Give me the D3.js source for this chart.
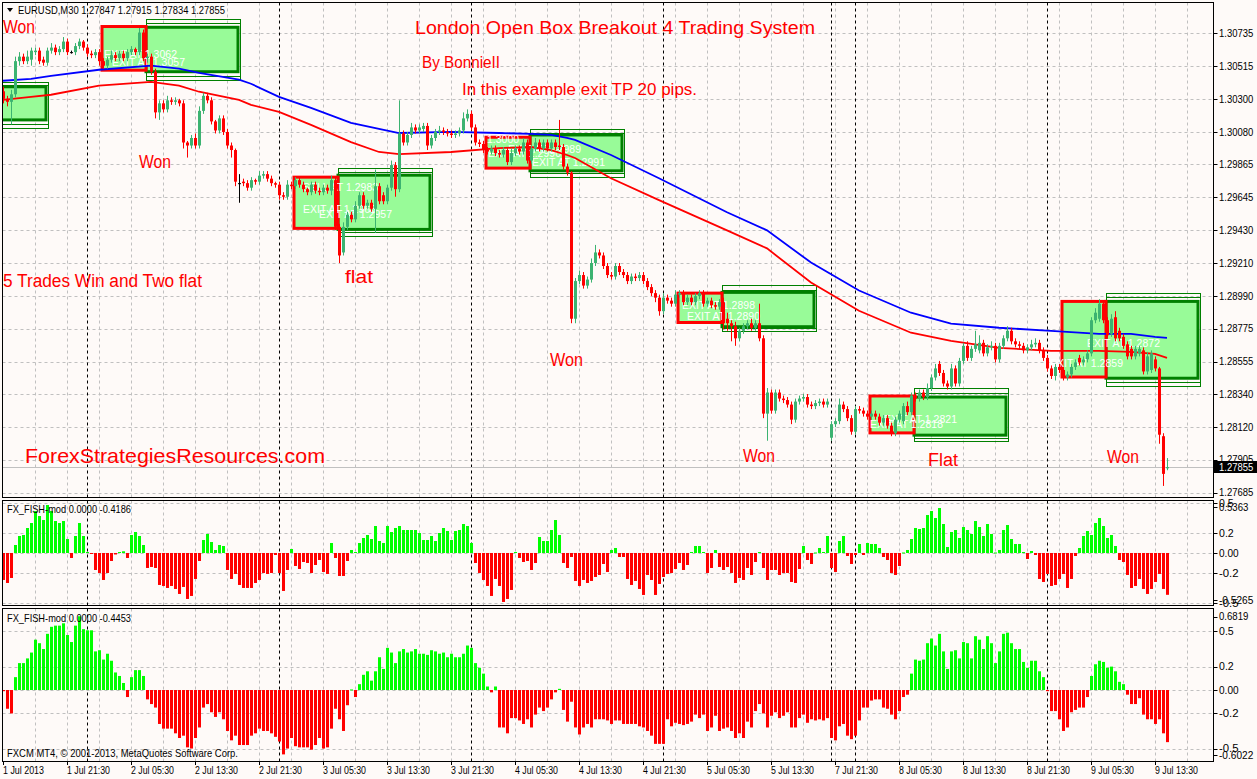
<!DOCTYPE html>
<html><head><meta charset="utf-8">
<script src="https://cdn.jsdelivr.net/npm/d3@7/dist/d3.min.js"></script>
<style>
html,body{margin:0;padding:0;background:#fefaf8;overflow:hidden;}
svg{display:block;}
text{font-family:"Liberation Sans",Arial,"DejaVu Sans",sans-serif;}
</style></head><body>
<svg id="chart" width="1257" height="779"></svg>
<script>
// ===== DATA (prices in pips above 1.2700) =====
const priceBase = 1.27, pipSize = 10000;
const symbolHeader = "EURUSD,M30  1.27847 1.27915 1.27834 1.27855";
const opens = [
335,330,328,333,355,358,355,356,361,362, 356,354,362,364,361,363,368,361,361,365,
368,364,360,359,361,355,352,356,359,357, 360,357,361,363,361,374,357,358,348,321,
327,323,329,328,329,327,301,299,304,299, 322,332,329,315,309,317,308,299,296,274,
275,274,271,276,275,279,280,277,274,273, 266,265,273,272,276,273,270,268,273,269,
268,271,269,276,245,228,245,253,250,259, 266,259,261,257,272,266,262,271,286,270,
307,301,306,311,309,310,312,299,304,308, 309,308,307,306,307,309,317,320,311,301,
300,296,295,297,294,293,296,288,294,297, 295,301,289,297,301,297,301,297,301,299,
298,285,281,184,209,213,206,210,221,228, 226,219,213,212,219,215,213,209,212,211,
213,209,205,201,198,189,198,196,194,200, 201,195,198,195,199,201,194,196,193,192,
195,184,181,179,171,176,179,181,178,181, 171,121,135,123,135,131,130,127,117,129,
131,132,127,126,128,129,127,105,114,116, 127,124,118,109,124,123,121,119,121,119,
115,118,113,108,117,116,126,122,133,131, 135,132,138,145,154,148,141,139,151,141,
156,166,158,164,163,168,161,165,166,157, 166,171,176,169,167,166,163,165,167,168,
163,158,151,146,152,150,145,147,152,158, 155,157,161,183,184,194,183,174,185,176,
172,167,164,159,161,163,149,150,157,151, 106,84.7];
const closes = [
330,328,333,355,358,355,358,362,362,355, 354,362,364,361,363,368,361,361,365,368,
364,360,359,361,355,352,356,359,357,360, 357,361,363,361,374,357,358,348,321,327,
323,329,328,329,327,301,299,304,299,322, 332,329,315,309,317,308,299,296,275,274,
274,271,276,275,279,280,277,274,273,266, 265,273,272,276,273,270,268,273,269,268,
271,269,276,245,226,245,253,250,259,266, 259,261,257,272,262,262,271,286,270,307,
301,306,311,309,311,312,299,304,308,309, 308,307,306,307,309,317,320,311,301,300,
296,295,297,294,293,296,288,294,297,295, 301,289,297,301,297,301,297,301,298,298,
285,281,184,209,213,206,210,221,228,226, 219,213,212,219,215,213,209,212,211,213,
209,205,201,198,189,198,196,194,200,201, 195,198,195,199,201,194,196,193,192,195,
181,181,179,171,176,179,181,178,181,171, 121,135,123,135,131,130,127,117,129,131,
132,127,126,128,129,127,129,114,116,127, 124,118,109,124,123,121,119,121,119,115,
118,113,108,117,121,126,122,133,131,135, 132,138,145,151,148,141,139,151,141,156,
166,158,164,167,168,161,165,166,157,166, 171,176,169,167,166,163,165,167,168,163,
158,151,146,152,150,145,147,152,155,155, 157,161,183,188,194,183,173,184,171,171,
166,159,159,164,164,149,159,161,151,107, 81,85.5];
const wickUp = [
3,2,3,3,3,2,4,2,2,2, 2,2,3,2,2,3,2,1,2,2, 1,2,2,2,2,2,2,3,2,2, 2,2,2,1,3,2,2,2,2,2,
2,3,2,2,1,2,1,2,3,3, 2,2,2,1,2,2,2,2,1,6, 2,2,2,1,3,2,2,2,1,2, 2,3,2,2,2,2,1,2,2,2,
2,2,3,2,2,3,2,2,3,2, 2,2,2,11,2,2,2,3,2,22, 2,2,3,2,2,2,2,2,2,3, 2,2,2,2,2,4,3,2,2,2,
2,2,2,2,2,2,2,3,2,2, 3,2,2,3,2,2,2,2,2,17, 2,2,1,2,3,2,2,3,5,2, 2,2,2,2,2,2,2,2,2,2,
2,2,2,2,2,3,2,2,3,2, 2,2,2,2,2,2,2,2,2,2, 3,4,2,3,2,2,2,3,2,13, 2,3,2,2,2,2,2,2,2,2,
2,2,2,2,2,2,2,2,2,4, 2,2,2,2,2,2,2,2,2,2, 2,2,2,2,2,2,3,2,2,2, 2,3,2,3,2,2,2,3,2,2,
2,3,2,9,5,2,2,3,2,2, 2,3,2,2,2,2,2,3,3,2, 2,2,2,2,2,2,2,2,2,2, 2,2,2,3,3,2,2,3,4,2,
2,2,2,2,2,2,3,2,2,1, 2,6];
const wickDn = [
3,3,15,2,3,2,2,4,2,2, 2,2,2,2,2,2,2,1,2,2, 2,2,2,2,3,2,2,2,2,2, 2,2,2,2,2,2,3,2,4,5,
2,2,2,2,2,4,8,2,2,2, 2,2,2,2,2,2,2,5,3,13, 2,2,2,2,2,2,2,2,2,3, 2,2,2,2,2,2,2,2,2,2,
2,2,3,2,5,2,2,2,2,2, 2,2,2,16,2,2,2,2,5,2, 2,2,2,2,2,2,3,2,2,2, 2,2,2,2,2,2,2,2,2,2,
2,2,2,2,2,2,2,2,2,2, 2,2,2,2,2,2,2,2,2,2, 2,2,3,3,2,2,2,2,2,2, 2,2,2,2,2,2,2,2,2,2,
2,2,2,3,3,2,2,2,2,2, 2,2,2,2,2,2,2,2,2,2, 4,5,10,5,2,2,2,2,2,2, 3,18,2,2,2,2,2,3,2,2,
2,2,2,2,2,2,2,2,2,2, 2,2,2,2,2,2,2,2,2,2, 2,2,2,2,2,2,2,2,2,2, 2,2,2,2,2,2,2,2,2,2,
2,2,2,2,2,2,2,2,2,2, 2,2,2,2,2,2,2,2,2,2, 2,2,2,3,2,2,2,2,2,2, 2,2,2,2,2,2,2,2,2,2,
2,2,2,2,2,2,2,2,2,6, 8,1.3];
// FX_FISH-mod histograms
const fish1 = [
-0.27,-0.30,-0.25,0.08,0.17,0.18,0.25,0.30,0.42,0.37, 0.33,0.48,0.42,0.32,0.30,0.32,0.14,-0.05,0.17,0.30,
0.17,0.01,-0.01,-0.17,-0.20,-0.27,-0.20,-0.08,-0.015,0.01, 0.017,-0.05,0.18,0.21,0.17,0.08,-0.15,-0.14,-0.15,-0.32,
-0.33,-0.35,-0.33,-0.36,-0.41,-0.34,-0.46,-0.43,-0.26,-0.08, 0.13,0.19,0.11,0.03,0.08,0.07,-0.17,-0.26,-0.21,-0.32,
-0.35,-0.35,-0.35,-0.30,-0.27,-0.20,-0.21,-0.20,-0.02,-0.20, -0.38,-0.17,0.04,-0.13,-0.16,-0.09,-0.10,-0.20,-0.12,-0.07,
-0.19,-0.21,0.10,-0.05,-0.23,-0.23,-0.08,0.03,0.01,0.10, 0.15,0.18,0.14,0.27,0.12,0.10,0.27,0.21,0.25,0.27,
0.23,0.23,0.23,0.23,0.20,0.13,0.13,0.17,0.12,0.20, 0.25,0.22,0.13,0.22,0.23,0.29,0.27,0.10,-0.10,-0.20,
-0.27,-0.33,-0.43,-0.26,-0.33,-0.49,-0.46,-0.37,0.01,-0.05, -0.09,-0.08,-0.17,-0.10,0.16,0.12,0.12,0.23,0.33,0.18,
-0.10,-0.15,-0.04,-0.28,-0.33,-0.27,-0.30,-0.28,-0.24,-0.22, -0.11,-0.19,0.03,0.05,-0.04,-0.04,-0.26,-0.32,-0.28,-0.36,
-0.42,-0.22,-0.27,-0.42,-0.31,-0.24,-0.21,-0.20,-0.16,-0.10, -0.17,-0.12,0.01,0.07,0.07,0.01,-0.20,-0.15,0.03,-0.14,
-0.17,-0.14,-0.20,-0.30,-0.25,-0.27,-0.15,-0.22,-0.09,0.01, -0.15,-0.27,-0.17,-0.17,-0.22,-0.20,-0.20,-0.29,-0.30,-0.16,
0.07,-0.07,-0.11,0.005,0.05,0.01,0.17,-0.15,-0.19,0.12, 0.17,-0.03,-0.11,-0.02,0.09,-0.02,0.10,0.09,0.09,0.05,
-0.04,-0.07,-0.20,-0.22,-0.13,0.005,0.03,0.14,0.25,0.24, 0.25,0.38,0.42,0.35,0.45,0.29,0.06,0.21,0.23,0.15,
0.26,0.23,0.19,0.32,0.26,0.17,0.29,0.19,0.005,0.03, 0.23,0.28,0.14,0.09,0.09,0.01,-0.06,0.02,-0.02,-0.26,
-0.29,-0.21,-0.33,-0.32,-0.26,-0.21,-0.35,-0.26,-0.03,0.05, 0.17,0.22,0.18,0.30,0.35,0.27,0.15,0.18,0.07,-0.07,
-0.09,-0.22,-0.35,-0.33,-0.26,-0.36,-0.41,-0.36,-0.29,-0.21, -0.36,-0.4186];
const fish2 = [
-0.01,-0.16,-0.20,0.11,0.23,0.23,0.27,0.32,0.43,0.40, 0.35,0.48,0.54,0.55,0.55,0.57,0.47,0.41,0.55,0.63,
0.52,0.51,0.51,0.33,0.34,0.26,0.31,0.25,0.15,0.12, 0.06,-0.06,0.11,0.17,0.17,0.12,-0.08,-0.12,-0.15,-0.29,
-0.33,-0.33,-0.33,-0.37,-0.41,-0.39,-0.49,-0.50,-0.41,-0.32, -0.15,-0.12,-0.19,-0.23,-0.19,-0.25,-0.35,-0.43,-0.39,-0.47,
-0.47,-0.47,-0.39,-0.37,-0.33,-0.35,-0.35,-0.37,-0.40,-0.44, -0.55,-0.50,-0.41,-0.48,-0.49,-0.49,-0.49,-0.51,-0.47,-0.41,
-0.50,-0.49,-0.33,-0.16,-0.25,-0.35,-0.13,0.005,-0.06,0.05, 0.13,0.16,0.08,0.16,0.28,0.18,0.36,0.32,0.23,0.33,
0.35,0.32,0.33,0.35,0.31,0.31,0.30,0.34,0.33,0.31, 0.32,0.28,0.31,0.28,0.28,0.31,0.38,0.36,0.23,0.19,
0.14,0.03,-0.02,0.03,-0.32,-0.32,-0.37,-0.24,-0.24,-0.26, -0.29,-0.25,-0.32,-0.21,-0.15,-0.18,-0.15,-0.08,-0.02,0.01,
-0.17,-0.27,-0.10,-0.32,-0.38,-0.32,-0.29,-0.32,-0.25,-0.25, -0.25,-0.26,-0.29,-0.26,-0.26,-0.29,-0.29,-0.29,-0.29,-0.31,
-0.32,-0.35,-0.39,-0.46,-0.46,-0.46,-0.25,-0.31,-0.28,-0.29, -0.30,-0.29,-0.27,-0.21,-0.24,-0.21,-0.35,-0.32,-0.22,-0.35,
-0.33,-0.32,-0.35,-0.41,-0.37,-0.41,-0.27,-0.32,-0.18,-0.12, -0.20,-0.32,-0.22,-0.19,-0.24,-0.22,-0.19,-0.32,-0.32,-0.24,
-0.21,-0.28,-0.25,-0.26,-0.25,-0.26,-0.24,-0.41,-0.43,-0.31, -0.29,-0.39,-0.42,-0.39,-0.26,-0.15,-0.15,-0.09,-0.08,-0.08,
-0.15,-0.16,-0.21,-0.25,-0.18,-0.06,-0.04,0.14,0.26,0.25, 0.26,0.40,0.44,0.38,0.48,0.33,0.18,0.33,0.34,0.27,
0.41,0.40,0.27,0.46,0.43,0.35,0.46,0.40,0.23,0.33, 0.48,0.49,0.40,0.35,0.35,0.24,0.19,0.25,0.25,0.16,
0.11,-0.01,-0.18,-0.18,-0.25,-0.35,-0.32,-0.19,-0.17,-0.15, -0.15,-0.06,0.12,0.22,0.25,0.24,0.19,0.20,0.16,0.07,
0.05,-0.04,-0.12,-0.12,-0.07,-0.21,-0.25,-0.25,-0.29,-0.25, -0.37,-0.4453];
// moving averages (bar index, value in pips)
const maBars = [0,7,12,24,37,44,49,59,62,69,77,87,94,99,112,124,132,137,141,143,152,164,181,191,202,214,227,237,249,262,274,282,288,291];
const maBlue = [342,343.3,345.3,349.3,352,350,347.3,342.7,340,331.3,324,314,310,307.3,308,307.3,306.7,306,304,302.7,292.7,277.3,254.7,242.7,221.3,202.7,188,180.7,178,176,174,174,172,171.3];
const maRed  = [329.3,331.3,332.7,338.7,341.3,338.7,334.7,329.3,326,321.3,312.7,301.3,294.7,293.3,294.7,297.3,298,296,292.7,290.7,277.3,262.7,242.7,230.7,208,189.3,174.7,169.3,164.7,162.7,162.7,162,160.7,158];
// range boxes: [startBar, endBar, top, bottom]
const redBoxes = [[25,36,378,349],[73,84,278,244],[121,132,304.5,284],[169,180,201,181.5],[217,228,132.7,108.2],[265,276,195.5,145.3]];
// breakout boxes: [startBar, endBar, outerTop, midTop, innerTop, innerBottom, midBottom, outerBottom]
const greenBoxes = [
 [-2,11,341,339.3,338,316,313.3,310.5],
 [36,59,383.3,380.5,377.5,348,345.3,342.7],
 [84,107,283.8,281.5,279.3,243.3,241.5,238.7],
 [132,155,309.8,307.1,306,282.2,280.5,277.8],
 [180,203,206.5,203.1,201.5,178.7,178,176],
 [228,251,137.8,134.9,132,106.7,104.9,102.7],
 [276,299,200.9,198.7,195.5,144.5,142.2,139.3]];
const lastPrice = 1.27855;
const priceTicks = [1.30735,1.30515,1.30300,1.30080,1.29865,1.29645,1.29430,1.29210,1.28990,1.28775,1.28555,1.28340,1.28120,1.27905,1.27685];
const timeTickBars = [0,16,32,48,64,80,96,112,128,144,160,176,192,208,224,240,256,272,288];
const timeTickLabels = ["1 Jul 2013","1 Jul 21:30","2 Jul 05:30","2 Jul 13:30","2 Jul 21:30","3 Jul 05:30","3 Jul 13:30","3 Jul 21:30","4 Jul 05:30","4 Jul 13:30","4 Jul 21:30","5 Jul 05:30","5 Jul 13:30","7 Jul 21:30","8 Jul 05:30","8 Jul 13:30","8 Jul 21:30","9 Jul 05:30","9 Jul 13:30"];
const daySeparatorBars = [21,69,117,165,207,213,261];
const fish1Ticks = [0.5,0.2,0,-0.2,-0.5];
const fish1TickLabels = ["0.5","0.2","0.00","-0.2","-0.5"];
const fish1Range = [-0.5265,0.5363];
const fish2Ticks = [0.5,0.2,0,-0.2,-0.5];
const fish2TickLabels = ["0.5","0.2","0.00","-0.2","-0.5"];
const fish2Range = [-0.6022,0.6819];
const fish1Title = "FX_FISH-mod 0.0000 -0.4186";
const fish2Title = "FX_FISH-mod 0.0000 -0.4453";
const copyright = "FXCM MT4, \u00a9 2001-2013, MetaQuotes Software Corp.";
// annotations (text, x, baseline, width, size)
const redNotes = [
 ["London Open Box Breakout 4 Trading System",415,34,400,18],
 ["By BonnieII",422,68,78,16],
 ["In this example exit TP 20 pips.",462,95,235,16],
 ["Won",3,33,32,18],
 ["Won",139,168,32,18],
 ["5 Trades Win and Two flat",3,287,199,18],
 ["flat",345,283,28,18],
 ["Won",550,366,33,18],
 ["Won",743,462,32,18],
 ["Flat",928,466,30,18],
 ["Won",1107,463,32,18],
 ["ForexStrategiesResources.com",25,463,300,21]];
const boxNotes = [
 ["EXIT AT 1.3062",104,58],["EXIT AT 1.3057",112,66],
 ["SELL AT 1.2983",303,191],["EXIT AT 1.2963",303,213],["EXIT AT 1.2957",319,218],
 ["1.3000",487,143],["EXIT AT 1.2990",488,157],["EXIT AT 1.2989",508,153],["EXIT AT 1.2991",532,166],
 ["EXIT AT 1.2898",682,309],["EXIT AT 1.2890",687,320],
 ["EXIT AT 1.2818",870,428],["EXIT AT 1.2821",884,423],
 ["EXIT AT 1.2859",1050,367],["EXIT AT 1.2872",1087,347]];

// ===== DRAWING =====
const BG = "#fefaf8", GRID = "#c0c0c0";
const svg = d3.select("#chart");
const L = 2.5, R = 1213.5;
const MAIN = [2.5, 497.5], P1 = [500.5, 605.5], P2 = [608.5, 761.5];
const P = v => priceBase + v / pipSize;

const x = d3.scaleLinear().domain([0, 291]).range([3, 1167]);
const yM = d3.scaleLinear().domain([1.27685, 1.30735]).range([492.7, 33.3]);
const y1 = d3.scaleLinear().domain(fish1Range).range([605.6, 499.4]);
const y2 = d3.scaleLinear().domain(fish2Range).range([760.5, 610.2]);

svg.append("rect").attr("width", 1257).attr("height", 779).attr("fill", BG);
const defs = svg.append("defs");
function mkClip(id, p) {
  defs.append("clipPath").attr("id", id).append("rect")
    .attr("x", L).attr("y", p[0]).attr("width", R - L).attr("height", p[1] - p[0]);
}
mkClip("cm", MAIN); mkClip("c1", P1); mkClip("c2", P2);

const gridBars = d3.range(8, 300, 8);
function drawGrid(g, p, yVals, ys) {
  yVals.forEach(v => {
    const yy = Math.round(ys(v)) + 0.5;
    g.append("line").attr("x1", L).attr("x2", R).attr("y1", yy).attr("y2", yy)
      .attr("stroke", GRID).attr("stroke-dasharray", "3,3");
  });
  gridBars.forEach(b => {
    const xx = Math.round(x(b)) + 0.5;
    g.append("line").attr("x1", xx).attr("x2", xx).attr("y1", p[0]).attr("y2", p[1])
      .attr("stroke", GRID).attr("stroke-dasharray", "3,3");
  });
  daySeparatorBars.forEach(b => {
    const xx = Math.round(x(b)) + 0.5;
    g.append("line").attr("x1", xx).attr("x2", xx).attr("y1", p[0]).attr("y2", p[1])
      .attr("stroke", "#000").attr("stroke-dasharray", "3,3");
  });
}

// ---- main panel ----
const gm = svg.append("g").attr("clip-path", "url(#cm)");
drawGrid(gm, MAIN, priceTicks, yM);
const lpY = Math.round(yM(lastPrice)) + 0.5;
gm.append("line").attr("x1", L).attr("x2", R).attr("y1", lpY).attr("y2", lpY).attr("stroke", GRID);

const bx = b => x(b) - 1;
greenBoxes.forEach(d => {
  const [s, e, oT, mT, iT, iB, mB, oB] = d;
  const x1 = bx(s), x2 = bx(e);
  gm.append("rect").attr("x", x1).attr("y", yM(P(iT))).attr("width", x2 - x1)
    .attr("height", yM(P(iB)) - yM(P(iT))).attr("fill", "#98fb98")
    .attr("stroke", "#008000").attr("stroke-width", 3);
  [[oT, oB], [mT, mB]].forEach(([t, b]) => {
    gm.append("rect").attr("x", x1 + 0.5).attr("y", Math.round(yM(P(t))) + 0.5)
      .attr("width", x2 - x1 + 2).attr("height", Math.round(yM(P(b))) - Math.round(yM(P(t))))
      .attr("fill", "none").attr("stroke", "#008000").attr("stroke-width", 1);
  });
});
redBoxes.forEach(d => {
  const [s, e, t, b] = d;
  gm.append("rect").attr("x", bx(s)).attr("y", yM(P(t))).attr("width", bx(e) - bx(s))
    .attr("height", yM(P(b)) - yM(P(t))).attr("fill", "#98fb98")
    .attr("stroke", "#ff0000").attr("stroke-width", 3);
});
boxNotes.forEach(d => {
  gm.append("text").attr("x", d[1]).attr("y", d[2]).attr("fill", "#ffffff")
    .attr("font-size", "10.5px").text(d[0]);
});
const maLine = vals => d3.line().x((b, i) => x(b)).y((b, i) => yM(P(vals[i])));
gm.append("path").attr("d", maLine(maRed)(maBars)).attr("fill", "none").attr("stroke", "#ff0000").attr("stroke-width", 1.8);
gm.append("path").attr("d", maLine(maBlue)(maBars)).attr("fill", "none").attr("stroke", "#0000ff").attr("stroke-width", 1.8);

opens.forEach((o, i) => {
  const c = closes[i];
  const hi = Math.max(o, c) + wickUp[i], lo = Math.min(o, c) - wickDn[i];
  const col = c > o ? "#3cb371" : (c < o ? "#ff0000" : "#000000");
  const cx = x(i);
  gm.append("line").attr("x1", cx + 0.5).attr("x2", cx + 0.5)
    .attr("y1", yM(P(hi))).attr("y2", yM(P(lo))).attr("stroke", col).attr("stroke-width", 1);
  const yt = Math.min(yM(P(o)), yM(P(c))), yb = Math.max(yM(P(o)), yM(P(c)));
  gm.append("rect").attr("x", cx - 1).attr("y", yt).attr("width", 3)
    .attr("height", Math.max(1, yb - yt)).attr("fill", col);
});

redNotes.forEach(d => {
  svg.append("text").attr("x", d[1]).attr("y", d[2]).attr("fill", "#ff0000")
    .attr("font-family", "'Comic Sans MS','Comic Neue','Open Sans','DejaVu Sans',sans-serif")
    .attr("font-size", d[4] + "px").attr("textLength", d[3]).attr("lengthAdjust", "spacingAndGlyphs")
    .text(d[0]);
});

svg.append("path").attr("d", "M7,8 L13,8 L10,12 Z").attr("fill", "#000");
svg.append("text").attr("x", 18).attr("y", 14).attr("font-size", "11.5px").attr("fill", "#000")
  .attr("textLength", 207).attr("lengthAdjust", "spacingAndGlyphs").text(symbolHeader);

// ---- indicator panels ----
function fishPanel(p, clipId, ys, vals, ticks) {
  const g = svg.append("g").attr("clip-path", `url(#${clipId})`);
  drawGrid(g, p, ticks, ys);
  vals.forEach((v, i) => {
    const y0 = ys(0), yv = ys(v);
    g.append("rect").attr("x", x(i) - 1).attr("width", 3)
      .attr("y", Math.min(y0, yv)).attr("height", Math.max(1, Math.abs(yv - y0)))
      .attr("fill", v >= 0 ? "#00ff00" : "#ff0000");
  });
}
fishPanel(P1, "c1", y1, fish1, fish1Ticks);
fishPanel(P2, "c2", y2, fish2, fish2Ticks);

svg.append("text").attr("x", 7).attr("y", 513).attr("font-size", "11.5px").attr("textLength", 124)
  .attr("lengthAdjust", "spacingAndGlyphs").text(fish1Title);
svg.append("text").attr("x", 7).attr("y", 622).attr("font-size", "11.5px").attr("textLength", 124)
  .attr("lengthAdjust", "spacingAndGlyphs").text(fish2Title);
svg.append("text").attr("x", 7).attr("y", 757).attr("font-size", "11.5px").attr("textLength", 231)
  .attr("lengthAdjust", "spacingAndGlyphs").text(copyright);

[MAIN, P1, P2].forEach(p => {
  svg.append("rect").attr("x", L).attr("y", p[0]).attr("width", R - L).attr("height", p[1] - p[0])
    .attr("fill", "none").attr("stroke", "#000").attr("stroke-width", 1);
});

const ax = svg.append("g").attr("font-size", "10.5px").attr("fill", "#000");
function rightLabel(yy, txt) {
  ax.append("line").attr("x1", R).attr("x2", R + 4).attr("y1", Math.round(yy) + 0.5).attr("y2", Math.round(yy) + 0.5).attr("stroke", "#000");
  ax.append("text").attr("x", 1219).attr("y", yy).attr("dy", "0.36em")
    .attr("textLength", txt.length * 4.9).attr("lengthAdjust", "spacingAndGlyphs").text(txt);
}
priceTicks.forEach(p => rightLabel(yM(p), p.toFixed(5)));
ax.append("rect").attr("x", 1214).attr("y", lpY - 6.5).attr("width", 43).attr("height", 12).attr("fill", "#000");
ax.append("text").attr("x", 1219).attr("y", lpY).attr("dy", "0.36em").attr("fill", "#fff")
  .attr("textLength", 34.3).attr("lengthAdjust", "spacingAndGlyphs").text(lastPrice.toFixed(5));

fish1Ticks.forEach((v, i) => rightLabel(y1(v), fish1TickLabels[i]));
rightLabel(507, fish1Range[1].toFixed(4));
rightLabel(600, fish1Range[0].toFixed(4));
fish2Ticks.forEach((v, i) => rightLabel(y2(v), fish2TickLabels[i]));
rightLabel(616.7, fish2Range[1].toFixed(4));
rightLabel(755, fish2Range[0].toFixed(4));

timeTickBars.forEach((b, i) => {
  const xx = Math.round(x(b)) + 0.5;
  ax.append("line").attr("x1", xx).attr("x2", xx).attr("y1", 761.5).attr("y2", 765).attr("stroke", "#000");
  ax.append("text").attr("x", x(b)).attr("y", 774).attr("font-size", "11.5px").attr("textLength", i === 0 ? 41 : 43)
    .attr("lengthAdjust", "spacingAndGlyphs").text(timeTickLabels[i]);
});
</script>
</body></html>
